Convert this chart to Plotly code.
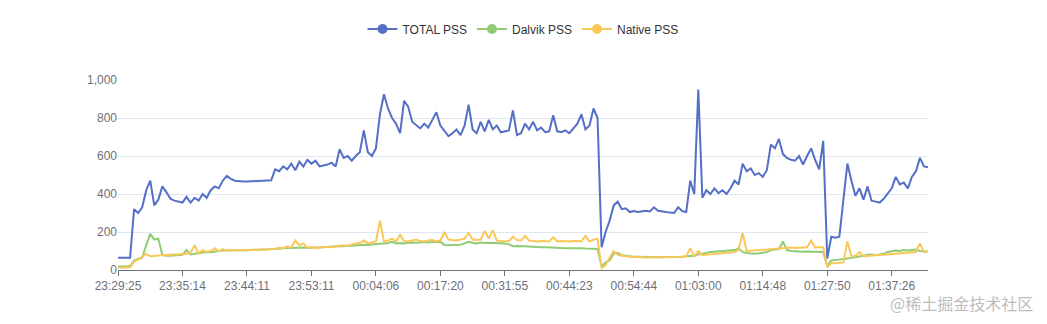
import plotly.graph_objects as go

tick_labels = ["23:29:25", "23:35:14", "23:44:11", "23:53:11", "00:04:06", "00:17:20",
               "00:31:55", "00:44:23", "00:54:44", "01:03:00", "01:14:48", "01:27:50", "01:37:26"]
tick_step = 16

total_pss = [
    65, 65, 65, 65, 320, 300, 330, 420, 470, 340,
    370, 440, 410, 375, 365, 360, 355, 385, 355, 380,
    365, 400, 380, 420, 440, 430, 470, 495, 480, 470,
    467, 466, 466, 467, 468, 468, 470, 470, 472, 530,
    520, 545, 530, 560, 525, 570, 545, 580, 560, 575,
    545, 550, 555, 565, 545, 635, 590, 600, 575, 600,
    620, 735, 620, 600, 640, 820, 925, 850, 800, 770,
    720, 890, 860, 780, 760, 745, 770, 750, 790, 830,
    760, 730, 705, 720, 740, 710, 760, 870, 740, 720,
    780, 730, 790, 740, 760, 725, 730, 735, 840, 710,
    720, 770, 740, 780, 735, 750, 725, 730, 815, 730,
    725, 735, 720, 745, 770, 820, 740, 760, 850, 800,
    120, 200, 260, 340, 360, 320, 325, 305, 310, 305,
    310, 312, 308, 330, 312, 310, 305, 302, 300, 330,
    310, 305, 470, 400, 950, 380, 420, 400, 430, 405,
    420, 400, 430, 470, 450, 560, 520, 535, 500, 510,
    490, 525, 660, 640, 690, 610, 590, 580, 575, 600,
    555, 600, 640, 580, 530, 680, 60, 175, 170, 175,
    360, 560, 470, 390, 430, 370, 440, 365, 360, 355,
    375, 400, 430, 490, 450, 460, 430, 490, 520, 590,
    545, 540,
]

dalvik_pss = [
    18, 18, 18, 22, 50, 58, 65, 130, 190, 160,
    165, 80, 75, 75, 76, 78, 80, 105, 82, 85,
    88, 92, 95, 93, 98, 100, 102, 103, 103, 104,
    104, 104, 104, 105, 105, 105, 106, 106, 108, 110,
    112, 114, 115, 118, 116, 120, 118, 117, 116, 118,
    118, 120, 120, 122, 125, 126, 125, 128, 127, 130,
    130, 133, 132, 135, 136, 138, 140, 142, 148, 140,
    142, 140, 143, 145, 143, 145, 147, 145, 148, 147,
    148, 132, 130, 132, 134, 133, 140, 148, 143, 140,
    145, 142, 143, 142, 141, 142, 140, 135, 125, 126,
    124, 125, 124, 122, 123, 120, 120, 118, 119, 117,
    116, 117, 115, 114, 116, 115, 113, 114, 112, 110,
    20, 40, 50, 85, 90, 78, 75, 72, 70, 70,
    69, 68, 68, 68, 67, 67, 68, 68, 68, 70,
    70, 72, 73, 75, 82, 85, 90, 95, 97, 100,
    100, 102, 103, 105, 115, 95, 90, 88, 85, 88,
    90, 95, 105, 108, 110, 150, 105, 100, 98, 97,
    96, 98, 97, 96, 95, 95, 20, 50, 52, 55,
    55, 60, 65, 68, 70, 75, 80, 82, 78, 80,
    85, 95, 100, 102, 100, 105, 103, 106, 108, 100,
    100, 98,
]

native_pss = [
    12, 12, 12, 15, 45, 55, 70, 85, 72, 75,
    76, 77, 78, 78, 79, 80, 82, 85, 90, 130,
    88, 105, 95, 100, 115, 98, 110, 102, 104, 103,
    104, 104, 105, 105, 105, 106, 106, 108, 110, 112,
    118, 115, 125, 118, 155, 130, 140, 118, 120, 115,
    118, 120, 122, 120, 125, 128, 130, 128, 135, 140,
    142, 155, 140, 145, 150, 260, 150, 155, 165, 150,
    185, 152, 150, 155, 160, 152, 150, 155, 158, 152,
    155, 200, 160, 158, 155, 160, 165, 195, 160, 158,
    160, 205, 165, 210, 155, 152, 150, 152, 175, 158,
    155, 180, 155, 152, 150, 152, 150, 150, 172, 150,
    152, 150, 150, 152, 150, 151, 180, 150, 160, 165,
    10, 25, 65, 100, 80, 75, 72, 70, 68, 67,
    67, 66, 66, 65, 65, 66, 66, 67, 67, 68,
    70, 72, 115, 72, 100, 78, 80, 82, 85, 88,
    88, 90, 92, 95, 105, 195, 100, 102, 105, 108,
    107, 108, 110, 112, 112, 115, 115, 118, 116, 118,
    118, 120, 155, 118, 120, 120, 15, 35, 36, 38,
    40, 150, 70, 75, 95, 72, 75, 78, 78, 80,
    80, 82, 84, 86, 88, 90, 92, 94, 95, 140,
    95, 96,
]

series = [
    ("TOTAL PSS", total_pss, "#5470c6"),
    ("Dalvik PSS", dalvik_pss, "#91cc75"),
    ("Native PSS", native_pss, "#fac858"),
]

fig = go.Figure()
for name, vals, color in series:
    fig.add_trace(go.Scatter(
        x=list(range(len(vals))), y=vals, mode="lines", name=name,
        line=dict(color=color, width=2), showlegend=False, hoverinfo="skip",
    ))
for name, vals, color in series:
    fig.add_trace(go.Scatter(
        x=[None], y=[None], mode="lines+markers", name=name,
        line=dict(color=color, width=2),
        marker=dict(color=color, size=10, symbol="circle"),
    ))

n = len(total_pss)
tickvals = [i * tick_step for i in range(len(tick_labels))]

fig.update_layout(
    width=1047, height=324,
    margin=dict(l=118, r=119, t=80, b=54),
    paper_bgcolor="white", plot_bgcolor="white",
    font=dict(family="Liberation Sans, Arial, sans-serif", size=12, color="#6e7079"),
    legend=dict(orientation="h", x=0.5, xanchor="center", y=0.955, yanchor="top",
                yref="container", font=dict(size=12, color="#333"),
                itemwidth=30, bgcolor="rgba(0,0,0,0)"),
    xaxis=dict(range=[0, n - 1], tickvals=tickvals, ticktext=tick_labels,
               showgrid=False, zeroline=False, showline=True, linecolor="#6e7079",
               linewidth=1, ticks="outside", ticklen=5, tickcolor="#6e7079",
               tickfont=dict(size=12, color="#6e7079")),
    yaxis=dict(range=[0, 1000], tickvals=[0, 200, 400, 600, 800, 1000],
               ticktext=["0", "200", "400", "600", "800", "1,000"],
               showgrid=True, gridcolor="#e0e6f1", zeroline=False, showline=False,
               ticks="", tickfont=dict(size=12, color="#6e7079")),
    annotations=[dict(text="@稀土掘金技术社区", xref="paper", yref="paper",
                      x=1.132, y=-0.175, xanchor="right", yanchor="middle",
                      showarrow=False,
                      font=dict(family="Noto Sans CJK SC", size=16, color="#bdbdbd"))],
)

fig.write_html("out.html")
